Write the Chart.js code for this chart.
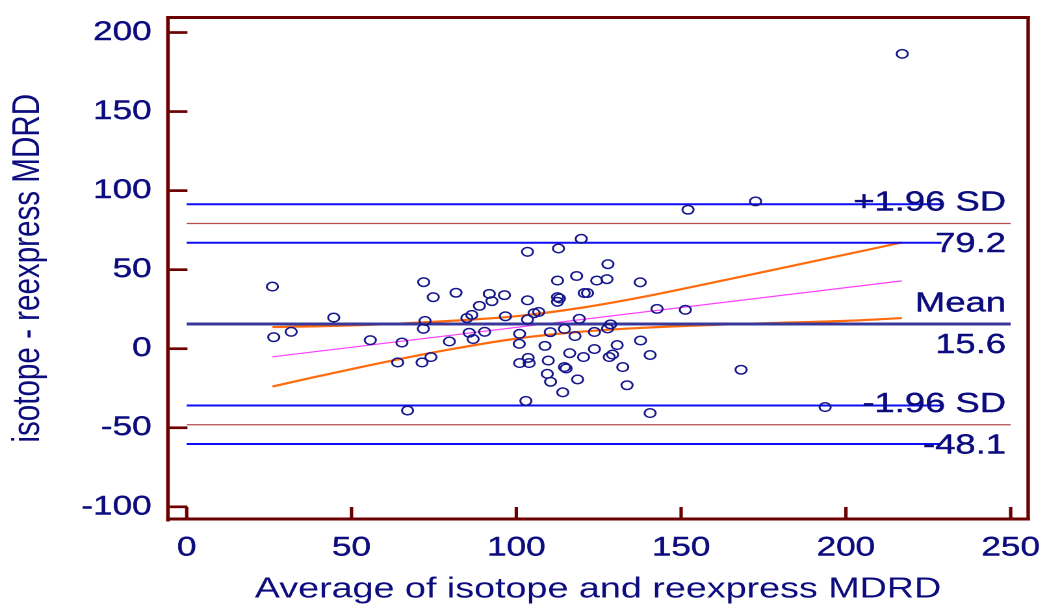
<!DOCTYPE html>
<html>
<head>
<meta charset="utf-8">
<title>Bland-Altman: isotope vs reexpress MDRD</title>
<script src="https://cdn.jsdelivr.net/npm/chart.js@4.4.1/dist/chart.umd.min.js"></script>
<style>
  html, body { margin: 0; padding: 0; background: #ffffff; overflow: hidden; }
  /* the plot is laid out narrow and widened horizontally */
  #wrap { position: absolute; left: 0; top: 0; width: 804px; height: 604px;
          transform: scaleX(1.2998); transform-origin: 0 0; }
</style>
</head>
<body>
<div id="wrap"><canvas id="chart"></canvas></div>
<script>
// Axis ticks
const xTicks = [0, 50, 100, 150, 200, 250];
const yTicks = [-100, -50, 0, 50, 100, 150, 200];

// Average of the two methods (x) and their difference (y), one entry per patient
const avgValues = [
  26.0, 26.4, 31.7, 44.6, 55.7, 65.3, 64.0, 67.0, 71.9, 74.8,
  81.7, 72.3, 71.8, 71.4, 74.1, 79.7, 85.0, 86.5, 88.8, 85.7,
  86.9, 119.7, 103.4, 112.8, 127.8, 112.5, 118.3, 124.4, 127.5, 137.6,
  91.8, 96.4, 92.6, 103.4, 112.5, 113.1, 112.5, 120.6, 121.6, 96.7,
  103.4, 105.4, 106.8, 142.7, 151.3, 119.1, 90.4, 101.0, 100.9, 110.3,
  114.6, 117.8, 123.7, 127.7, 128.6, 137.7, 108.7, 116.2, 120.4, 123.7,
  128.2, 129.2, 130.6, 140.6, 103.6, 101.0, 103.9, 109.7, 114.6, 115.1,
  132.3, 109.4, 110.4, 118.6, 133.6, 114.1, 102.9, 140.6, 152.1, 172.6,
  217.1, 168.2, 193.7
];
const diffValues = [
  39.3, 7.3, 10.7, 19.7, 5.4, 3.9, -8.7, -39.1, 42.1, 32.6,
  35.4, 17.6, 12.6, -8.7, -5.3, 4.6, 19.4, 21.4, 27.1, 10.1,
  6.1, 69.5, 61.3, 63.4, 53.5, 43.1, 46.0, 43.1, 44.0, 42.0,
  34.7, 33.9, 30.1, 30.6, 32.6, 31.8, 29.7, 35.2, 35.2, 20.5,
  18.5, 22.5, 23.3, 25.2, 24.6, 18.9, 10.7, 9.4, 3.1, 10.5,
  12.5, 8.0, 10.6, 12.8, 15.4, 5.2, 1.8, -2.8, -5.3, -0.2,
  -5.3, -3.7, 2.3, -4.0, -5.8, -9.1, -9.1, -7.5, -11.6, -12.5,
  -11.6, -15.9, -20.9, -19.4, -23.1, -27.6, -33.0, -40.7, 87.9, 93.2,
  186.5, -13.3, -36.9
];

// Mean difference and limits of agreement with their confidence intervals
const meanDiff = 15.6;
const upperLimit = 79.2;
const lowerLimit = -48.1;
const upperLimitCI = [67.0, 91.4];
const lowerLimitCI = [-60.3, -35.9];
const limitNames = ['+1.96 SD', 'Mean', '-1.96 SD'];

// Regression of difference on average, with its confidence band
const regX = [26, 217];
const regY = [-5.1, 42.9];
const bandX = [26, 40, 60, 80, 100, 120, 140, 160, 180, 200, 217];
const bandUpper = [13.7, 14.2, 15.5, 17.6, 20.6, 26.0, 33.4, 42.0, 50.8, 59.6, 67.2];
const bandLower = [-23.9, -17.4, -8.5, -0.4, 6.4, 10.8, 13.4, 15.1, 16.4, 17.6, 19.4];

// Horizontal extent of the reference lines (in x units)
const limitSpan = [0, 250];
const ciSpan = [0, 229];

const FONT = '"Liberation Sans", Arial, Helvetica, sans-serif';
const NAVY = '#0c0c7e';
const AXIS = '#6c0000';
const BLUE = '#0d0df2';
const BROWN = '#b44c4c';
const MEAN = '#38389b';
const ORANGE = '#ff6b0d';
const PINK = '#ff3dff';
const MARK = '#16168c';

const hline = (value, span) => span.map(x => ({ x, y: value }));
const curve = (xs, ys) => xs.map((x, i) => ({ x, y: ys[i] }));

const lineDefaults = { showLine: true, pointRadius: 0, pointHoverRadius: 0, fill: false, tension: 0 };

const datasets = [
  {
    label: 'Differences',
    data: avgValues.map((x, i) => ({ x, y: diffValues[i] })),
    showLine: false,
    pointStyle: 'circle',
    pointRadius: 4.3,
    pointHoverRadius: 4.3,
    pointBorderWidth: 1.5,
    borderColor: MARK,
    backgroundColor: 'rgba(0,0,0,0)',
    order: 0
  },
  Object.assign({}, lineDefaults, { label: 'Mean', data: hline(meanDiff, limitSpan), borderColor: MEAN, borderWidth: 3, order: 1 }),
  Object.assign({}, lineDefaults, { label: 'Upper limit', data: hline(upperLimit, limitSpan), borderColor: BROWN, borderWidth: 1.3, order: 2 }),
  Object.assign({}, lineDefaults, { label: 'Lower limit', data: hline(lowerLimit, limitSpan), borderColor: BROWN, borderWidth: 1.3, order: 2 }),
  Object.assign({}, lineDefaults, { label: 'Upper limit CI low', data: hline(upperLimitCI[0], ciSpan), borderColor: BLUE, borderWidth: 2, order: 3 }),
  Object.assign({}, lineDefaults, { label: 'Upper limit CI high', data: hline(upperLimitCI[1], ciSpan), borderColor: BLUE, borderWidth: 2, order: 3 }),
  Object.assign({}, lineDefaults, { label: 'Lower limit CI low', data: hline(lowerLimitCI[0], ciSpan), borderColor: BLUE, borderWidth: 2, order: 3 }),
  Object.assign({}, lineDefaults, { label: 'Lower limit CI high', data: hline(lowerLimitCI[1], ciSpan), borderColor: BLUE, borderWidth: 2, order: 3 }),
  Object.assign({}, lineDefaults, { label: 'Regression', data: curve(regX, regY), borderColor: PINK, borderWidth: 1.2, order: 4 }),
  Object.assign({}, lineDefaults, { label: 'Band upper', data: curve(bandX, bandUpper), borderColor: ORANGE, borderWidth: 2.2, tension: 0.35, order: 5 }),
  Object.assign({}, lineDefaults, { label: 'Band lower', data: curve(bandX, bandLower), borderColor: ORANGE, borderWidth: 2.2, tension: 0.35, order: 5 })
];

// Text beside the mean and the limits of agreement
const limitLabels = {
  id: 'limitLabels',
  afterDatasetsDraw(chart) {
    const { ctx, scales: { x, y } } = chart;
    const right = x.getPixelForValue(limitSpan[1]) - 3.6;
    const rows = [
      [upperLimit, limitNames[0]],
      [meanDiff, limitNames[1]],
      [lowerLimit, limitNames[2]]
    ];
    ctx.save();
    ctx.font = '28px ' + FONT;
    ctx.fillStyle = NAVY;
    ctx.strokeStyle = NAVY;
    ctx.lineWidth = 0.4;
    ctx.textAlign = 'right';
    ctx.textBaseline = 'middle';
    rows.forEach(([value, name]) => {
      const py = y.getPixelForValue(value);
      const valueText = value.toFixed(1);
      ctx.fillText(name, right, py - 20.5);
      ctx.strokeText(name, right, py - 20.5);
      ctx.fillText(valueText, right, py + 21);
      ctx.strokeText(valueText, right, py + 21);
    });
    ctx.restore();
  }
};

// Box around the plot with inward tick marks
const plotFrame = {
  id: 'plotFrame',
  afterDraw(chart) {
    const { ctx, chartArea: { left, right, top, bottom }, scales: { x, y } } = chart;
    ctx.save();
    ctx.strokeStyle = AXIS;
    ctx.lineCap = 'butt';
    ctx.lineWidth = 2.7;
    yTicks.forEach(v => {
      const py = y.getPixelForValue(v);
      ctx.beginPath(); ctx.moveTo(left, py); ctx.lineTo(left + 15, py); ctx.stroke();
    });
    ctx.lineWidth = 2.6;
    xTicks.forEach(v => {
      const px = x.getPixelForValue(v);
      ctx.beginPath(); ctx.moveTo(px, bottom); ctx.lineTo(px, bottom - 12); ctx.stroke();
    });
    ctx.lineWidth = 3;
    ctx.beginPath(); ctx.moveTo(left - 1.3, top); ctx.lineTo(right + 1.3, top); ctx.stroke();
    ctx.beginPath(); ctx.moveTo(left - 1.3, bottom); ctx.lineTo(right + 1.3, bottom); ctx.stroke();
    ctx.lineWidth = 2.7;
    ctx.beginPath(); ctx.moveTo(left, top - 1.5); ctx.lineTo(left, bottom + 2.5); ctx.stroke();
    ctx.beginPath(); ctx.moveTo(right, top - 1.5); ctx.lineTo(right, bottom + 1.5); ctx.stroke();
    ctx.restore();
  }
};

new Chart(document.getElementById('chart'), {
  type: 'scatter',
  data: { datasets },
  plugins: [limitLabels, plotFrame],
  options: {
    responsive: true,
    maintainAspectRatio: false,
    animation: false,
    devicePixelRatio: 2,
    events: [],
    layout: { padding: { top: 17.5, right: 13, left: 0, bottom: 0 } },
    plugins: { legend: { display: false }, tooltip: { enabled: false } },
    scales: {
      x: {
        type: 'linear',
        min: -5.7,
        max: 255.3,
        afterBuildTicks: s => { s.ticks = xTicks.map(v => ({ value: v })); },
        afterFit: s => { s.height = 85; s.paddingLeft = 0; s.paddingRight = 0; },
        grid: { display: false, drawTicks: false },
        border: { display: false },
        ticks: {
          color: NAVY, font: { family: FONT, size: 27 }, padding: 12.6,
          textStrokeColor: NAVY, textStrokeWidth: 0.4,
          maxRotation: 0, autoSkip: false, callback: v => String(v)
        },
        title: {
          display: true, text: 'Average of isotope and reexpress MDRD', color: NAVY,
          font: { family: FONT, size: 29, lineHeight: 1 }, padding: { top: 0, bottom: 0 }
        }
      },
      y: {
        type: 'linear',
        min: -107.7,
        max: 209.5,
        afterBuildTicks: s => { s.ticks = yTicks.map(v => ({ value: v })); },
        afterFit: s => { s.width = 129.2; s.paddingTop = 0; s.paddingBottom = 0; },
        grid: { display: false, drawTicks: false },
        border: { display: false },
        ticks: {
          color: NAVY, font: { family: FONT, size: 27 }, padding: 12.5,
          textStrokeColor: NAVY, textStrokeWidth: 0.4,
          autoSkip: false, callback: v => String(v)
        },
        title: {
          display: true, text: 'isotope - reexpress MDRD', color: NAVY,
          font: { family: FONT, size: 29.6, lineHeight: 1.2 }, padding: { top: 4, bottom: 0 }
        }
      }
    }
  }
});
</script>
</body>
</html>
